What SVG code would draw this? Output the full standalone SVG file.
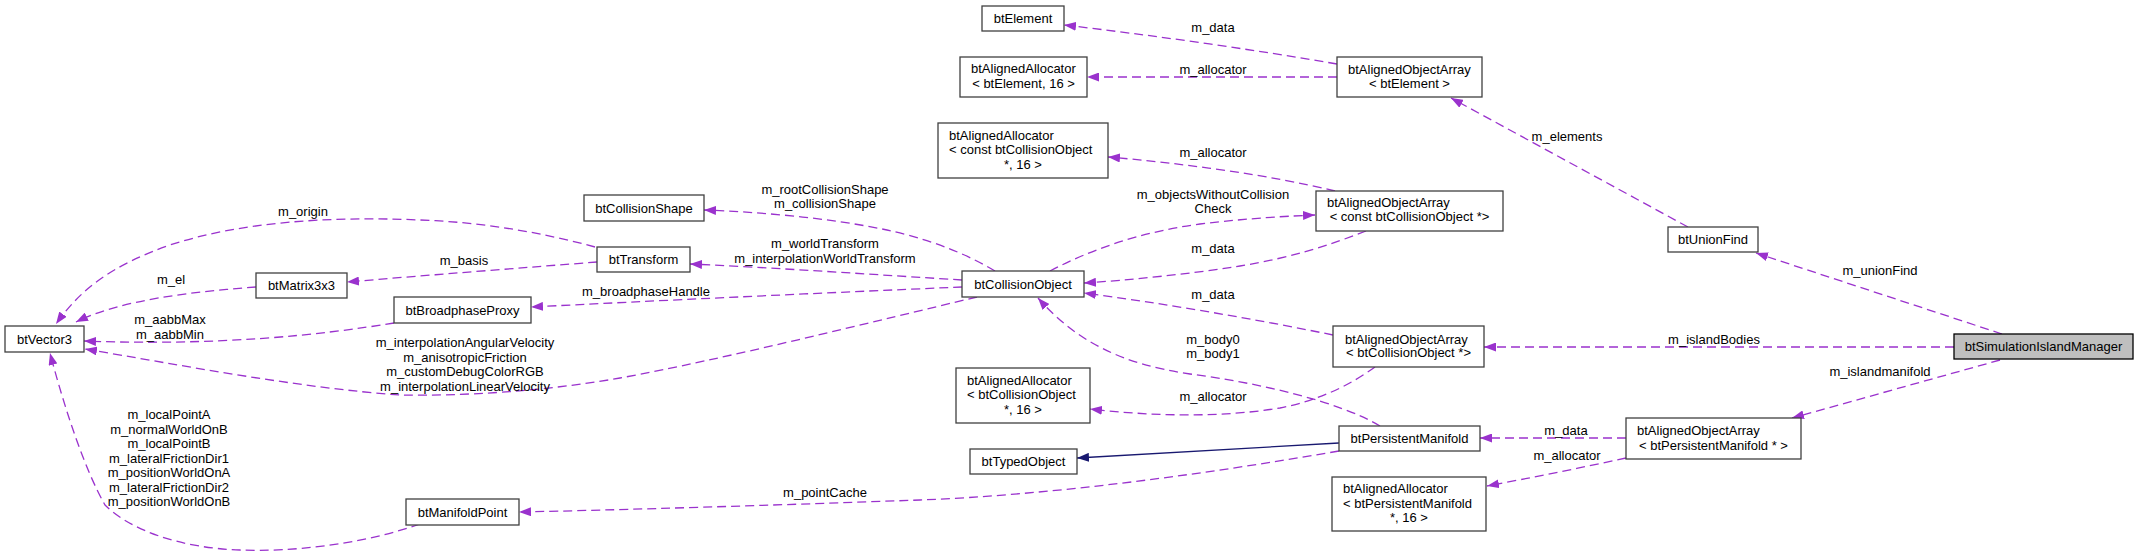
<svg xmlns="http://www.w3.org/2000/svg" width="2139" height="557" viewBox="0 0 2139 557">
<style>
text{font-family:"Liberation Sans",Arial,Helvetica,sans-serif;font-size:13px;fill:#000}
.m{text-anchor:middle}
.n rect{fill:#fff;stroke:#404040;stroke-width:1.3}
.root rect{fill:#bfbfbf;stroke:#000}
.e{fill:none;stroke:#9a32cd;stroke-width:1.3;stroke-dasharray:9,5;marker-end:url(#ap)}
.i{fill:none;stroke:#191970;stroke-width:1.3;marker-end:url(#an)}
</style>
<defs>
<marker id="ap" viewBox="0 0 12 9" refX="12" refY="4.5" markerWidth="12" markerHeight="9" markerUnits="userSpaceOnUse" orient="auto"><path d="M0,0 L12,4.5 L0,9 z" fill="#9a32cd"/></marker>
<marker id="an" viewBox="0 0 12 9" refX="12" refY="4.5" markerWidth="12" markerHeight="9" markerUnits="userSpaceOnUse" orient="auto"><path d="M0,0 L12,4.5 L0,9 z" fill="#191970"/></marker>
</defs>
<rect width="2139" height="557" fill="#fff"/>
<g id="connectors">
<path class="e" d="M595,247 C540,232 480,222 420,220 C330,216 240,222 170,245 C110,266 80,290 56,324"/>
<text class="m" x="303" y="216">m_origin</text>
<path class="e" d="M256,287 C190,292 120,300 76,322"/>
<text class="m" x="171" y="283.5">m_el</text>
<path class="e" d="M597,262 C520,268 430,275 347,282"/>
<text class="m" x="464" y="264.5">m_basis</text>
<path class="e" d="M394,323 C320,335 220,346 84,341"/>
<text class="m" x="170" y="324">m_aabbMax</text>
<text class="m" x="170" y="338.5">m_aabbMin</text>
<path class="e" d="M977,297 C880,320 720,360 620,378 C540,392 460,396 400,395 C300,388 180,365 85,349"/>
<text class="m" x="465" y="347">m_interpolationAngularVelocity</text>
<text class="m" x="465" y="361.5">m_anisotropicFriction</text>
<text class="m" x="465" y="376">m_customDebugColorRGB</text>
<text class="m" x="465" y="390.5">m_interpolationLinearVelocity</text>
<path class="e" d="M995,271 C960,250 920,237 887,230 C830,218 760,212 704,210"/>
<text class="m" x="825" y="193.5">m_rootCollisionShape</text>
<text class="m" x="825" y="208">m_collisionShape</text>
<path class="e" d="M962,280 C880,275 780,268 690,264"/>
<text class="m" x="825" y="248">m_worldTransform</text>
<text class="m" x="825" y="263">m_interpolationWorldTransform</text>
<path class="e" d="M962,287 C820,293 650,301 531,307"/>
<text class="m" x="646" y="296">m_broadphaseHandle</text>
<path class="e" d="M1337,64 C1250,49 1150,35 1064,25"/>
<text class="m" x="1213" y="31.5">m_data</text>
<path class="e" d="M1337,77 L1087,77"/>
<text class="m" x="1213" y="73.5">m_allocator</text>
<path class="e" d="M1335,191 C1270,175 1180,163 1108,157"/>
<text class="m" x="1213" y="156.5">m_allocator</text>
<path class="e" d="M1050,271 C1090,250 1140,232 1200,224 C1250,218 1290,216 1315,215"/>
<text class="m" x="1213" y="199">m_objectsWithoutCollision</text>
<text class="m" x="1213" y="213">Check</text>
<path class="e" d="M1366,231 C1330,245 1290,258 1240,266 C1190,274 1130,280 1084,283"/>
<text class="m" x="1213" y="253">m_data</text>
<path class="e" d="M1333,335 C1250,318 1160,303 1084,293"/>
<text class="m" x="1213" y="299">m_data</text>
<path class="e" d="M1380,426 C1340,402 1260,383 1190,374 C1120,364 1075,340 1038,298"/>
<text class="m" x="1213" y="344">m_body0</text>
<text class="m" x="1213" y="358">m_body1</text>
<path class="e" d="M1375,367 C1350,385 1320,400 1280,408 C1220,418 1150,416 1090,409"/>
<text class="m" x="1213" y="401">m_allocator</text>
<path class="i" d="M1339,443 L1077,458"/>
<path class="e" d="M1339,451 C1200,475 1050,495 920,500 C780,505 620,510 519,512"/>
<text class="m" x="825" y="496.5">m_pointCache</text>
<path class="e" d="M420,524 C360,545 290,552 240,550 C180,548 130,530 105,505 C85,470 65,410 50,353"/>
<text class="m" x="169" y="419">m_localPointA</text>
<text class="m" x="169" y="433.5">m_normalWorldOnB</text>
<text class="m" x="169" y="448">m_localPointB</text>
<text class="m" x="169" y="462.5">m_lateralFrictionDir1</text>
<text class="m" x="169" y="477">m_positionWorldOnA</text>
<text class="m" x="169" y="491.5">m_lateralFrictionDir2</text>
<text class="m" x="169" y="506">m_positionWorldOnB</text>
<path class="e" d="M1626,438 L1480,438"/>
<text class="m" x="1566" y="435">m_data</text>
<path class="e" d="M1626,458 C1580,468 1530,478 1487,486"/>
<text class="m" x="1567" y="459.5">m_allocator</text>
<path class="e" d="M2002,334 L1756,253"/>
<text class="m" x="1880" y="275">m_unionFind</text>
<path class="e" d="M1954,347 L1484,347"/>
<text class="m" x="1714" y="343.5">m_islandBodies</text>
<path class="e" d="M2000,360 L1792,418"/>
<text class="m" x="1880" y="376">m_islandmanifold</text>
<path class="e" d="M1688,227 L1451,98"/>
<text class="m" x="1567" y="141">m_elements</text>
</g>
<g id="node-btVector3" class="n"><rect x="5" y="326" width="79" height="26"/><text class="m" x="44.5" y="343.5">btVector3</text></g>
<g id="node-btMatrix3x3" class="n"><rect x="256" y="273" width="91" height="25"/><text class="m" x="301.5" y="290">btMatrix3x3</text></g>
<g id="node-btBroadphaseProxy" class="n"><rect x="394" y="297" width="137" height="26"/><text class="m" x="462.5" y="314.5">btBroadphaseProxy</text></g>
<g id="node-btManifoldPoint" class="n"><rect x="406" y="499" width="113" height="26"/><text class="m" x="462.5" y="516.5">btManifoldPoint</text></g>
<g id="node-btCollisionShape" class="n"><rect x="584" y="195" width="120" height="26"/><text class="m" x="644" y="212.5">btCollisionShape</text></g>
<g id="node-btTransform" class="n"><rect x="597" y="247" width="93" height="25"/><text class="m" x="643.5" y="264">btTransform</text></g>
<g id="node-btCollisionObject" class="n"><rect x="962" y="271" width="122" height="26"/><text class="m" x="1023" y="288.5">btCollisionObject</text></g>
<g id="node-btElement" class="n"><rect x="982" y="6" width="82" height="25"/><text class="m" x="1023" y="23">btElement</text></g>
<g id="node-btAlignedAllocator-btElement" class="n"><rect x="960" y="57" width="127" height="40"/><text x="971" y="73">btAlignedAllocator</text><text class="m" x="1023.5" y="88">&lt; btElement, 16 &gt;</text></g>
<g id="node-btAlignedAllocator-constCO" class="n"><rect x="938" y="123" width="170" height="55"/><text x="949" y="139.5">btAlignedAllocator</text><text x="949" y="154">&lt; const btCollisionObject</text><text class="m" x="1023" y="168.5">*, 16 &gt;</text></g>
<g id="node-btAlignedAllocator-CO" class="n"><rect x="956" y="368" width="134" height="55"/><text x="967" y="384.5">btAlignedAllocator</text><text x="967" y="399">&lt; btCollisionObject</text><text class="m" x="1023" y="414">*, 16 &gt;</text></g>
<g id="node-btTypedObject" class="n"><rect x="970" y="449" width="107" height="25"/><text class="m" x="1023.5" y="466">btTypedObject</text></g>
<g id="node-btAlignedObjectArray-btElement" class="n"><rect x="1337" y="57" width="145" height="40"/><text x="1348" y="73.5">btAlignedObjectArray</text><text class="m" x="1409.5" y="88">&lt; btElement &gt;</text></g>
<g id="node-btAlignedObjectArray-constCO" class="n"><rect x="1316" y="191" width="187" height="40"/><text x="1327" y="207">btAlignedObjectArray</text><text class="m" x="1409.5" y="221">&lt; const btCollisionObject *&gt;</text></g>
<g id="node-btAlignedObjectArray-CO" class="n"><rect x="1333" y="326" width="151" height="41"/><text x="1345" y="343.5">btAlignedObjectArray</text><text class="m" x="1408.5" y="357">&lt; btCollisionObject *&gt;</text></g>
<g id="node-btPersistentManifold" class="n"><rect x="1339" y="426" width="141" height="25"/><text class="m" x="1409.5" y="443">btPersistentManifold</text></g>
<g id="node-btAlignedAllocator-PM" class="n"><rect x="1332" y="477" width="154" height="54"/><text x="1343" y="493">btAlignedAllocator</text><text x="1343" y="507.5">&lt; btPersistentManifold</text><text class="m" x="1409" y="522">*, 16 &gt;</text></g>
<g id="node-btUnionFind" class="n"><rect x="1668" y="227" width="90" height="25"/><text class="m" x="1713" y="244">btUnionFind</text></g>
<g id="node-btAlignedObjectArray-PM" class="n"><rect x="1626" y="418" width="175" height="41"/><text x="1637" y="434.5">btAlignedObjectArray</text><text class="m" x="1713.5" y="449.5">&lt; btPersistentManifold * &gt;</text></g>
<g id="node-btSimulationIslandManager" class="n root"><rect x="1954" y="334" width="179" height="25"/><text class="m" x="2043.5" y="351">btSimulationIslandManager</text></g>
</svg>
